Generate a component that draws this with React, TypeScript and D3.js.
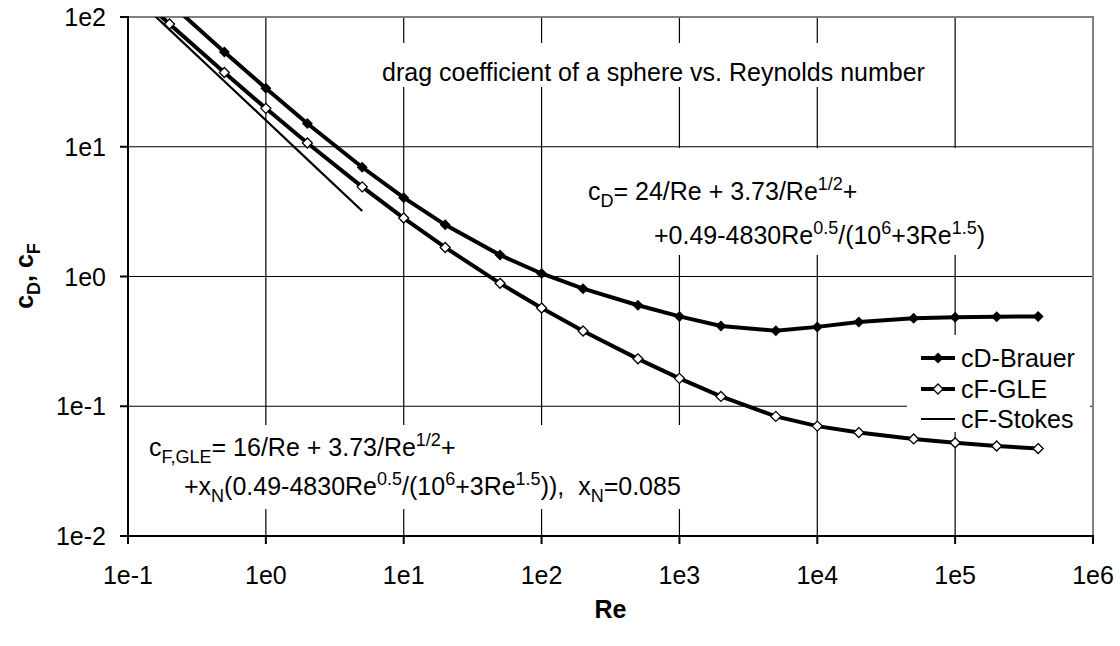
import React, { useRef, useEffect } from "react";
import { select, scaleLog, line } from "d3";

// Reynolds numbers of the computed points
const RE = [0.1, 0.2, 0.5, 1, 2, 5, 10, 20, 50, 100, 200, 500, 1000, 2000, 5000, 1e4, 2e4, 5e4, 1e5, 2e5, 4e5];
const CD_BRAUER = [252.3, 128.8, 53.76, 28.22, 15.12, 6.947, 4.054, 2.502, 1.463, 1.055, 0.806, 0.6, 0.4925, 0.415, 0.382, 0.409, 0.446, 0.476, 0.486, 0.49, 0.492];
const CF_GLE = [171.8, 88.38, 37.32, 19.77, 10.68, 4.909, 2.82, 1.674, 0.886, 0.571, 0.38, 0.232, 0.164, 0.119, 0.0835, 0.0703, 0.0627, 0.056, 0.0523, 0.0494, 0.0472];
const RE_STOKES = [0.1, 0.2, 0.5, 1, 2, 5];
const CF_STOKES = [160, 80, 32, 16, 8, 3.2];

const X_TICKS = [0.1, 1, 10, 100, 1e3, 1e4, 1e5, 1e6];
const X_TICK_LABELS = ["1e-1", "1e0", "1e1", "1e2", "1e3", "1e4", "1e5", "1e6"];
const Y_TICKS = [0.01, 0.1, 1, 10, 100];
const Y_TICK_LABELS = ["1e-2", "1e-1", "1e0", "1e1", "1e2"];

const LEGEND = ["cD-Brauer", "cF-GLE", "cF-Stokes"];
const TITLE = "drag coefficient of a sphere vs. Reynolds number";

// [text, "sub" | "sup" | undefined]
const CD_FORMULA_1 = [["c"], ["D", "sub"], ["= 24/Re + 3.73/Re"], ["1/2", "sup"], ["+"]];
const CD_FORMULA_2 = [["+0.49-4830Re"], ["0.5", "sup"], ["/(10"], ["6", "sup"], ["+3Re"], ["1.5", "sup"], [")"]];
const CF_FORMULA_1 = [["c"], ["F,GLE", "sub"], ["= 16/Re + 3.73/Re"], ["1/2", "sup"], ["+"]];
const CF_FORMULA_2 = [["+x"], ["N", "sub"], ["(0.49-4830Re"], ["0.5", "sup"], ["/(10"], ["6", "sup"], ["+3Re"], ["1.5", "sup"], [")),  x"], ["N", "sub"], ["=0.085"]];
const Y_TITLE = [["c"], ["D", "sub"], [", c"], ["F", "sub"]];

const W = 1120;
const H = 646;
const PLOT = { left: 128, right: 1093, top: 17, bottom: 536 };
const FONT = "'Liberation Sans', Arial, sans-serif";
const FS = 25;

const diamond = (r) => `M0,${-r}L${r},0L0,${r}L${-r},0Z`;

const richText = (g, x, y, parts, size, opts = {}) => {
  const t = g
    .append("text")
    .attr("x", x)
    .attr("y", y)
    .attr("font-size", size)
    .attr("font-family", FONT)
    .attr("fill", "#000")
    .attr("text-anchor", opts.anchor || "start")
    .attr("font-weight", opts.bold ? "bold" : "normal")
    .style("white-space", "pre");
  if (opts.transform) t.attr("transform", opts.transform);
  let shift = 0;
  parts.forEach(([s, kind]) => {
    const target = kind === "sub" ? size * 0.26 : kind === "sup" ? -size * 0.4 : 0;
    t.append("tspan")
      .attr("dy", target - shift)
      .attr("font-size", kind ? size * 0.72 : size)
      .text(s);
    shift = target;
  });
  return t;
};

const whiteBox = (g, x0, y0, x1, y1) =>
  g.append("rect").attr("x", x0).attr("y", y0).attr("width", x1 - x0).attr("height", y1 - y0).attr("fill", "#fff");

export default function App() {
  const ref = useRef(null);

  useEffect(() => {
    ref.current.innerHTML = "";
    const x = scaleLog().domain([0.1, 1e6]).range([PLOT.left, PLOT.right]);
    const y = scaleLog().domain([0.01, 100]).range([PLOT.bottom, PLOT.top]);

    const svg = select(ref.current)
      .append("svg")
      .attr("width", W)
      .attr("height", H)
      .style("position", "absolute")
      .style("left", 0)
      .style("top", 0)
      .style("background", "#fff");

    svg
      .append("defs")
      .append("clipPath")
      .attr("id", "plotClip")
      .append("rect")
      .attr("x", PLOT.left)
      .attr("y", PLOT.top)
      .attr("width", PLOT.right - PLOT.left)
      .attr("height", PLOT.bottom - PLOT.top);

    // grid
    const grid = svg.append("g").attr("stroke", "#000").attr("stroke-width", 1.2);
    X_TICKS.slice(1, -1).forEach((v) =>
      grid.append("line").attr("x1", x(v)).attr("x2", x(v)).attr("y1", PLOT.top).attr("y2", PLOT.bottom)
    );
    Y_TICKS.slice(1, -1).forEach((v) =>
      grid.append("line").attr("x1", PLOT.left).attr("x2", PLOT.right).attr("y1", y(v)).attr("y2", y(v))
    );

    // frame: grey top/right, black axes
    svg
      .append("path")
      .attr("d", `M${PLOT.left},${PLOT.top}H${PLOT.right}V${PLOT.bottom}`)
      .attr("fill", "none")
      .attr("stroke", "#808080")
      .attr("stroke-width", 2);

    // text boxes that mask the grid
    const boxes = svg.append("g");
    whiteBox(boxes, 374, 43, 936, 87);
    whiteBox(boxes, 560, 148, 1010, 255);
    whiteBox(boxes, 138, 425, 700, 509);
    whiteBox(boxes, 907, 335, 1090, 432);

    const axes = svg.append("g").attr("stroke", "#000").attr("stroke-width", 2);
    axes.append("line").attr("x1", PLOT.left).attr("x2", PLOT.left).attr("y1", PLOT.top - 1).attr("y2", PLOT.bottom + 1);
    axes.append("line").attr("x1", PLOT.left - 1).attr("x2", PLOT.right + 1).attr("y1", PLOT.bottom).attr("y2", PLOT.bottom);
    X_TICKS.forEach((v) =>
      axes.append("line").attr("x1", x(v)).attr("x2", x(v)).attr("y1", PLOT.bottom).attr("y2", PLOT.bottom + 8)
    );
    Y_TICKS.forEach((v) =>
      axes.append("line").attr("x1", PLOT.left - 8).attr("x2", PLOT.left).attr("y1", y(v)).attr("y2", y(v))
    );

    // tick labels
    X_TICKS.forEach((v, i) => richText(svg, x(v), 584, [[X_TICK_LABELS[i]]], FS, { anchor: "middle" }));
    Y_TICKS.forEach((v, i) => richText(svg, 106, y(v) + 9, [[Y_TICK_LABELS[i]]], FS, { anchor: "end" }));

    // axis titles
    richText(svg, (PLOT.left + PLOT.right) / 2, 618, [["Re"]], FS, { anchor: "middle", bold: true });
    richText(svg, 0, 0, Y_TITLE, FS, { anchor: "middle", bold: true, transform: "translate(33,276) rotate(-90)" });

    // annotations
    richText(svg, 382, 81, [[TITLE]], FS);
    richText(svg, 588, 200, CD_FORMULA_1, FS);
    richText(svg, 654, 244, CD_FORMULA_2, FS);
    richText(svg, 149, 456, CF_FORMULA_1, FS);
    richText(svg, 184, 495, CF_FORMULA_2, FS);

    // curves
    const plot = svg.append("g").attr("clip-path", "url(#plotClip)");
    const mkLine = (xs) =>
      line()
        .x((d, i) => x(xs[i]))
        .y((d) => y(d));

    plot.append("path").datum(CF_STOKES).attr("d", mkLine(RE_STOKES)).attr("fill", "none").attr("stroke", "#000").attr("stroke-width", 2.2);
    plot.append("path").datum(CF_GLE).attr("d", mkLine(RE)).attr("fill", "none").attr("stroke", "#000").attr("stroke-width", 4);
    plot.append("path").datum(CD_BRAUER).attr("d", mkLine(RE)).attr("fill", "none").attr("stroke", "#000").attr("stroke-width", 4);

    plot
      .selectAll(".mGle")
      .data(CF_GLE)
      .enter()
      .append("path")
      .attr("transform", (d, i) => `translate(${x(RE[i])},${y(d)})`)
      .attr("d", diamond(5))
      .attr("fill", "#fff")
      .attr("stroke", "#000")
      .attr("stroke-width", 1.3);
    plot
      .selectAll(".mCd")
      .data(CD_BRAUER)
      .enter()
      .append("path")
      .attr("transform", (d, i) => `translate(${x(RE[i])},${y(d)})`)
      .attr("d", diamond(5.5))
      .attr("fill", "#000");

    // legend
    const rows = [358, 389, 419];
    const lg = svg.append("g");
    LEGEND.forEach((name, i) => {
      lg.append("line")
        .attr("x1", 921)
        .attr("x2", 955)
        .attr("y1", rows[i])
        .attr("y2", rows[i])
        .attr("stroke", "#000")
        .attr("stroke-width", i < 2 ? 4 : 2.2);
      if (i === 0) lg.append("path").attr("transform", `translate(938,${rows[i]})`).attr("d", diamond(5.5)).attr("fill", "#000");
      if (i === 1)
        lg.append("path")
          .attr("transform", `translate(938,${rows[i]})`)
          .attr("d", diamond(5))
          .attr("fill", "#fff")
          .attr("stroke", "#000")
          .attr("stroke-width", 1.3);
      richText(lg, 961, rows[i] + 9, [[name]], FS);
    });
  }, []);

  return <div ref={ref} />;
}
